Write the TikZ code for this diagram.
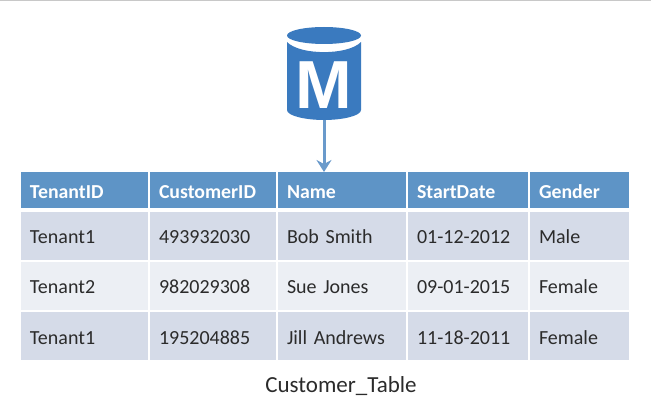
\documentclass[tikz,border=0pt]{standalone}
\usepackage{fontspec}
\setmainfont[WordSpace=0.6]{Carlito}
\newfontfamily\dbfont{Liberation Sans}
\usepackage{xcolor}
\usetikzlibrary{positioning,arrows.meta}
\definecolor{headblue}{HTML}{5E94C6}
\definecolor{rowdark}{HTML}{D5DBE8}
\definecolor{rowlight}{HTML}{ECEFF4}
\definecolor{dbblue}{HTML}{3A7ABF}
\definecolor{flowblue}{HTML}{6A9ACB}
\definecolor{inktext}{HTML}{2B2B2B}
\definecolor{topgrey}{HTML}{C8C8C8}
\tikzset{
    cell/.style={rectangle, outer sep=0pt, inner xsep=9pt, inner ysep=0pt, align=left, anchor=north west, text=inktext, text height=16pt, text depth=0pt, font=\fontsize{20}{22}\selectfont},
    head/.style={cell, fill=headblue, minimum height=36pt, text=white, text height=18pt, font=\fontsize{19.8}{22}\selectfont\bfseries},
    dark/.style={cell, fill=rowdark, minimum height=48pt},
    light/.style={cell, fill=rowlight, minimum height=48pt},
    colA/.style={text width=109pt}, colB/.style={text width=108pt}, colC/.style={text width=110pt},
    colD/.style={text width=102pt}, colE/.style={text width=81pt},
    flow/.style={draw=flowblue, line width=3pt, -{Stealth[length=12pt,width=15pt,inset=4pt]}}
}
\begin{document}
\begin{tikzpicture}[x=1pt, y=-1pt, node distance=2pt]
    \useasboundingbox (0,0) rectangle (651,406);
    \fill [topgrey] (0,0) rectangle (651,1.5);

    % database
    \fill [dbblue] (287,42) .. controls (300,55.5) and (348,55.5) .. (361,42) -- (361,110)
        .. controls (361,116) and (342,120) .. (324,120) .. controls (306,120) and (287,116) .. (287,110) -- cycle;
    \fill [dbblue] (324,35.5) ellipse [x radius=37, y radius=8.5];
    \node [text=white, inner sep=0pt, font=\fontsize{68}{68}\selectfont\dbfont\bfseries] (dbM) at (324,85.5) {M};
    \coordinate (dbfoot) at (324,120);

    % header
    \node [head, colA] (hTenant) at (21,172) {TenantID};
    \node [head, colB, right=of hTenant.north east, anchor=north west] (hCustomer) {CustomerID};
    \node [head, colC, right=of hCustomer.north east, anchor=north west] (hName) {Name};
    \node [head, colD, right=of hName.north east, anchor=north west] (hStart) {StartDate};
    \node [head, colE, right=of hStart.north east, anchor=north west] (hGender) {Gender};

    % rows
    \node [dark, colA] (a1) at (21,212) {Tenant1};
    \node [dark, colB, right=of a1.north east, anchor=north west] (a2) {493932030};
    \node [dark, colC, right=of a2.north east, anchor=north west] (a3) {Bob Smith};
    \node [dark, colD, right=of a3.north east, anchor=north west] (a4) {01-12-2012};
    \node [dark, colE, right=of a4.north east, anchor=north west] (a5) {Male};

    \node [light, colA] (b1) at (21,262) {Tenant2};
    \node [light, colB, right=of b1.north east, anchor=north west] (b2) {982029308};
    \node [light, colC, right=of b2.north east, anchor=north west] (b3) {Sue Jones};
    \node [light, colD, right=of b3.north east, anchor=north west] (b4) {09-01-2015};
    \node [light, colE, right=of b4.north east, anchor=north west] (b5) {Female};

    \node [dark, colA] (c1) at (21,312) {Tenant1};
    \node [dark, colB, right=of c1.north east, anchor=north west] (c2) {195204885};
    \node [dark, colC, right=of c2.north east, anchor=north west] (c3) {Jill Andrews};
    \node [dark, colD, right=of c3.north east, anchor=north west] (c4) {11-18-2011};
    \node [dark, colE, right=of c4.north east, anchor=north west] (c5) {Female};

    \node [text=inktext, font=\fontsize{23}{26}\selectfont] (caption) at (341,386) {Customer\_Table};

    \draw [flow] (dbfoot) -- (dbfoot |- hName.north);
\end{tikzpicture}
\end{document}
